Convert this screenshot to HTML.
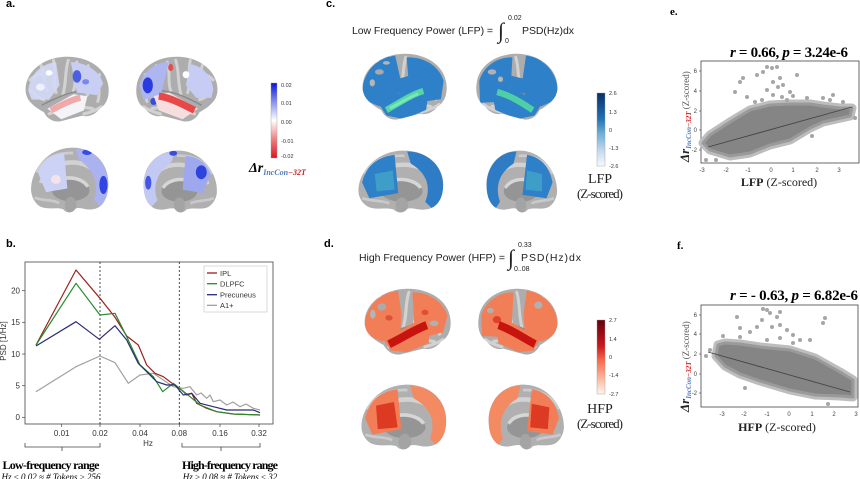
<!DOCTYPE html>
<html><head><meta charset="utf-8"><style>
html,body{margin:0;padding:0;background:#fff;}
svg{display:block;}
.sans{font-family:"Liberation Sans",sans-serif;}
.serif{font-family:"Liberation Serif",serif;}
</style></head><body>
<svg width="860" height="479" viewBox="0 0 860 479" xmlns="http://www.w3.org/2000/svg">
<defs>
<clipPath id="cl"><path d="M3,40 C2,20 22,3 48,2 C74,1 95,14 98,34 C100,46 96,56 88,60 C84,66 76,70 68,68 C60,70 52,72 44,74 C36,76 28,72 24,64 C16,60 8,54 5,48 C4,45 3,43 3,40 Z"/></clipPath>
<clipPath id="cm"><path d="M4,52 C2,30 22,4 52,3 C80,2 98,20 98,42 C98,60 90,70 78,71 C70,72 64,68 58,70 C55,75 47,76 43,71 C35,68 25,72 15,68 C8,64 5,58 4,52 Z"/></clipPath>
<g id="latbase">
<path d="M3,40 C2,20 22,3 48,2 C74,1 95,14 98,34 C100,46 96,56 88,60 C84,66 76,70 68,68 C60,70 52,72 44,74 C36,76 28,72 24,64 C16,60 8,54 5,48 C4,45 3,43 3,40 Z" fill="#adadad"/>
<g clip-path="url(#cl)" fill="none" stroke="#d2d2d2" stroke-width="3.5" stroke-linecap="round">
<path d="M20,10 C25,20 22,30 28,40"/><path d="M35,6 C38,18 34,30 38,42"/><path d="M52,6 C48,18 50,30 46,44"/><path d="M62,8 C58,20 62,30 58,40"/><path d="M75,12 C72,22 78,32 74,45"/><path d="M88,22 C84,30 90,40 86,52"/><path d="M30,66 C45,60 60,56 80,60"/><path d="M10,40 C14,46 18,48 24,50"/><path d="M8,28 C14,22 20,20 26,24"/><path d="M70,66 C78,64 84,62 90,58"/>
<path d="M22,56 C38,48 55,40 72,40" stroke="#8a8a8a" stroke-width="1.5"/>
</g></g>
<g id="medbase">
<path d="M4,52 C2,30 22,4 52,3 C80,2 98,20 98,42 C98,60 90,70 78,71 C70,72 64,68 58,70 C55,75 47,76 43,71 C35,68 25,72 15,68 C8,64 5,58 4,52 Z" fill="#b0b0b0"/>
<g clip-path="url(#cm)">
<path d="M16,42 C22,16 72,10 88,36" fill="none" stroke="#d2d2d2" stroke-width="5"/>
<path d="M10,30 C20,12 40,8 55,9" fill="none" stroke="#cccccc" stroke-width="3"/>
<ellipse cx="52" cy="50" rx="23" ry="12" fill="#959595"/>
<path d="M30,46 C36,33 64,33 73,46" fill="none" stroke="#d6d6d6" stroke-width="4"/>
<path d="M8,58 C20,62 30,60 38,64" fill="none" stroke="#cacaca" stroke-width="3"/>
<ellipse cx="52" cy="66" rx="7" ry="9" fill="#a4a4a4"/>
</g></g>
<linearGradient id="ga" x1="0" y1="0" x2="0" y2="1"><stop offset="0" stop-color="#0a14d8"/><stop offset="0.25" stop-color="#8890f0"/><stop offset="0.5" stop-color="#ffffff"/><stop offset="0.75" stop-color="#f08080"/><stop offset="1" stop-color="#e0141e"/></linearGradient>
<linearGradient id="gc" x1="0" y1="0" x2="0" y2="1"><stop offset="0" stop-color="#08306b"/><stop offset="0.35" stop-color="#2171b5"/><stop offset="0.55" stop-color="#6baed6"/><stop offset="0.8" stop-color="#c6dbef"/><stop offset="1" stop-color="#f7fbff"/></linearGradient>
<linearGradient id="gd" x1="0" y1="0" x2="0" y2="1"><stop offset="0" stop-color="#67000d"/><stop offset="0.35" stop-color="#cb181d"/><stop offset="0.55" stop-color="#fb6a4a"/><stop offset="0.8" stop-color="#fcbba1"/><stop offset="1" stop-color="#fff5f0"/></linearGradient>
</defs>
<rect width="860" height="479" fill="#fff"/>

<!-- ===== Panel a ===== -->
<text x="6" y="7" class="sans" font-size="11" font-weight="bold">a.</text>
<g transform="translate(23,55) scale(0.87,0.893)">
<use href="#latbase"/>
<g clip-path="url(#cl)">
<path d="M6,40 C8,22 20,10 38,8 L42,34 L30,50 L10,50 Z" fill="#d4d9f6" opacity="0.9"/>
<path d="M55,8 C72,8 88,18 92,32 L85,45 L62,42 Z" fill="#c9cff4"/>
<path d="M28,60 L58,44 L74,46 L70,62 L44,72 Z" fill="#f4f4f8"/>
<path d="M32,62 C44,56 56,50 66,48" stroke="#f0a8a8" stroke-width="7" fill="none"/>
<ellipse cx="62" cy="24" rx="5" ry="7" fill="#4b5ee4"/>
<ellipse cx="72" cy="30" rx="4" ry="3" fill="#7a88ec"/>
<ellipse cx="30" cy="20" rx="4" ry="3" fill="#ffffff"/>
<ellipse cx="20" cy="36" rx="5" ry="4" fill="#eef0fb"/>
</g></g>
<g transform="translate(220,55) scale(-0.85,0.893)">
<use href="#latbase"/>
<g clip-path="url(#cl)">
<path d="M8,38 C10,22 22,12 36,10 L40,34 L28,48 L10,48 Z" fill="#c6ccf3"/>
<path d="M60,8 C76,8 90,18 95,34 L90,50 L70,46 Z" fill="#aeb6f0"/>
<ellipse cx="85" cy="34" rx="6" ry="9" fill="#2a3ce0"/>
<ellipse cx="78" cy="52" rx="4" ry="4" fill="#3a4ce0"/>
<path d="M26,60 L60,42 L78,46 L72,62 L44,72 Z" fill="#f6dede"/>
<path d="M30,62 C44,55 58,48 72,46" stroke="#e84848" stroke-width="8" fill="none"/>
<ellipse cx="58" cy="14" rx="3" ry="4" fill="#e05050"/>
<ellipse cx="40" cy="22" rx="4" ry="4" fill="#ffffff"/>
</g></g>
<g transform="translate(28,145) scale(0.82,0.907)">
<use href="#medbase"/>
<g clip-path="url(#cm)">
<path d="M12,30 C18,16 30,10 44,9 L48,48 L22,52 Z" fill="#ccd2f5"/>
<path d="M58,4 C80,4 97,20 98,42 C98,56 94,64 88,68 L80,60 C86,48 84,30 62,16 Z" fill="#aab2ef"/>
<ellipse cx="92" cy="44" rx="5" ry="10" fill="#3245e0"/>
<ellipse cx="72" cy="8" rx="6" ry="3" fill="#3a4ce0"/>
<ellipse cx="34" cy="38" rx="6" ry="5" fill="#f2e4ea"/>
</g></g>
<g transform="translate(220,148) scale(-0.78,0.867)">
<use href="#medbase"/>
<g clip-path="url(#cm)">
<path d="M12,30 C18,16 30,10 44,9 L48,48 L22,52 Z" fill="#9ea8ee"/>
<ellipse cx="24" cy="28" rx="7" ry="8" fill="#2e42dc"/>
<path d="M58,4 C80,4 97,20 98,42 C98,56 94,64 88,68 L80,60 C86,48 84,30 62,16 Z" fill="#c2c9f3"/>
<ellipse cx="92" cy="40" rx="4" ry="8" fill="#4456e2"/>
<ellipse cx="60" cy="6" rx="5" ry="3" fill="#3a4ce0"/>
</g></g>
<rect x="271" y="83" width="6" height="75" fill="url(#ga)" stroke="#999" stroke-width="0.4"/>
<g class="sans" font-size="5.5" fill="#333">
<text x="281" y="87">0.02</text><text x="281" y="105">0.01</text><text x="281" y="124">0.00</text><text x="281" y="143">-0.01</text><text x="281" y="158">-0.02</text>
</g>
<text x="249" y="172" class="serif" font-size="14" font-weight="bold" font-style="italic">Δr<tspan dy="3" font-size="8" fill="#5078c0">IncCon</tspan><tspan font-size="8" fill="#d02020">−32T</tspan></text>

<!-- ===== Panel b ===== -->
<text x="6" y="247" class="sans" font-size="11" font-weight="bold">b.</text>
<rect x="25" y="262" width="248" height="162" fill="none" stroke="#444" stroke-width="0.8"/>
<line x1="100" y1="262" x2="100" y2="424" stroke="#222" stroke-width="0.8" stroke-dasharray="2,2"/>
<line x1="179.3" y1="262" x2="179.3" y2="424" stroke="#222" stroke-width="0.8" stroke-dasharray="2,2"/>
<g stroke="#444" stroke-width="0.7">
<line x1="22" y1="417.3" x2="25" y2="417.3"/><line x1="22" y1="385.7" x2="25" y2="385.7"/><line x1="22" y1="354" x2="25" y2="354"/><line x1="22" y1="322.3" x2="25" y2="322.3"/><line x1="22" y1="290.7" x2="25" y2="290.7"/>
<line x1="61.7" y1="424" x2="61.7" y2="427"/><line x1="100" y1="424" x2="100" y2="427"/><line x1="140" y1="424" x2="140" y2="427"/><line x1="179.3" y1="424" x2="179.3" y2="427"/><line x1="220" y1="424" x2="220" y2="427"/><line x1="259" y1="424" x2="259" y2="427"/>
</g>
<g class="sans" font-size="8" fill="#333" text-anchor="end">
<text x="20" y="420">0</text><text x="20" y="388.5">5</text><text x="20" y="357">10</text><text x="20" y="325">15</text><text x="20" y="293.5">20</text>
</g>
<g class="sans" font-size="8" fill="#333" text-anchor="middle">
<text x="61.7" y="436">0.01</text><text x="100" y="436">0.02</text><text x="140" y="436">0.04</text><text x="179.3" y="436">0.08</text><text x="220" y="436">0.16</text><text x="259" y="436">0.32</text>
<text x="148" y="446">Hz</text>
</g>
<text transform="translate(6,341) rotate(-90)" class="sans" font-size="8" fill="#333" text-anchor="middle">PSD [1/Hz]</text>
<g fill="none" stroke-width="1.2" stroke-linejoin="round">
<polyline stroke="#a0a0a0" points="36,391.7 76,366.7 100,356 115,362.7 128.3,383.3 140,375 153.3,373.3 163.3,380 173.3,386.7 183.3,388.3 190,386.7 196.7,395 201,393 206.7,398.3 210,395 213.3,401.7 220,400 226.7,405 233,402 240,406.7 246,404 253.3,408.3 260,410"/>
<polyline stroke="#9b2020" points="36,345 76,270 100,298.3 115,317.3 126.7,336 138.3,345 146.7,365 155,373.3 163.3,376.7 170,381.7 176.7,386.7 181.7,390 186.7,395 191.7,393.3 196.7,403.3 206.7,408.3 216.7,411.7 233.3,414 260,415"/>
<polyline stroke="#2a8a2a" points="36,345 76,283.3 100,315 115,313.3 126.7,336.7 140,365 153.3,376.7 162.7,391.7 173.3,383.3 181.7,390 190,396.7 200,405 216.7,411.7 233.3,414 260,415"/>
<polyline stroke="#2a2a7a" points="36,346 76,321.7 99.3,339.3 115,325.7 126.7,340 138.3,363.3 148.3,373.3 156.7,381.7 166.7,385 175,385 183.3,395 191.7,393.3 200,403.3 213.3,406.7 226.7,410 240,410 253.3,410 260,412.7"/>
</g>
<rect x="204" y="266" width="63" height="46" fill="#fff" stroke="#ccc" stroke-width="0.7"/>
<g stroke-width="1.3">
<line x1="207" y1="273" x2="217" y2="273" stroke="#9b2020"/>
<line x1="207" y1="283.7" x2="217" y2="283.7" stroke="#2a8a2a"/>
<line x1="207" y1="294.7" x2="217" y2="294.7" stroke="#2a2a7a"/>
<line x1="207" y1="305.3" x2="217" y2="305.3" stroke="#a0a0a0"/>
</g>
<g class="sans" font-size="7.5" fill="#333">
<text x="220" y="276">IPL</text><text x="220" y="286.5">DLPFC</text><text x="220" y="297.5">Precuneus</text><text x="220" y="308">A1+</text>
</g>
<g fill="none" stroke="#444" stroke-width="0.8">
<path d="M25,443 L25,447 L100,447 L100,443 M62,447 L62,451"/>
<path d="M182,443 L182,447 L260,447 L260,443 M221,447 L221,451"/>
</g>
<text x="51" y="469" class="serif" font-size="12" font-weight="bold" text-anchor="middle" textLength="97">Low-frequency range</text>
<text x="230" y="469" class="serif" font-size="12" font-weight="bold" text-anchor="middle" textLength="96">High-frequency range</text>
<text x="51" y="480" class="serif" font-size="9" font-style="italic" text-anchor="middle">Hz ≤ 0.02 ≈ # Tokens ≥ 256</text>
<text x="230" y="480" class="serif" font-size="9" font-style="italic" text-anchor="middle">Hz ≥ 0.08 ≈ # Tokens ≤ 32</text>

<!-- ===== Panel c ===== -->
<text x="326" y="7" class="sans" font-size="11" font-weight="bold">c.</text>
<text x="352" y="34" class="sans" font-size="10.5" textLength="141" fill="#222">Low Frequency Power (LFP) =</text>
<text x="498" y="38" class="serif" font-size="22" fill="#222">∫</text>
<text x="508" y="20" class="sans" font-size="7" fill="#222">0.02</text>
<text x="505" y="43" class="sans" font-size="7" fill="#222">0</text>
<text x="522" y="34" class="sans" font-size="10.5" textLength="52" fill="#222">PSD(Hz)dx</text>
<g transform="translate(360,52) scale(0.88,0.907)">
<use href="#latbase"/>
<g clip-path="url(#cl)" fill="#2e80c8">
<path d="M3,44 C2,25 18,6 40,4 L46,30 L42,55 L22,60 L8,54 Z"/>
<path d="M53,6 C72,5 90,15 95,32 L92,52 L70,55 L56,40 Z"/>
<path d="M22,58 L60,38 L78,45 L75,64 L50,74 L30,70 Z"/>
<path d="M42,30 L56,26 L56,42 L44,46 Z"/>
<ellipse cx="22" cy="22" rx="5" ry="3" fill="#a9a9a9"/><ellipse cx="14" cy="34" rx="3" ry="4" fill="#b5b5b5"/><ellipse cx="30" cy="12" rx="4" ry="2" fill="#b5b5b5"/>
<path d="M30,64 C45,56 58,47 72,43" stroke="#55d6a8" stroke-width="7" fill="none"/>
<path d="M34,62 C46,56 56,50 66,46" stroke="#7ae8b8" stroke-width="3" fill="none"/>
</g></g>
<g transform="translate(560,52) scale(-0.85,0.907)">
<use href="#latbase"/>
<g clip-path="url(#cl)" fill="#2e80c8">
<path d="M3,44 C2,25 18,6 40,4 L44,30 L40,55 L22,60 L8,54 Z"/>
<path d="M56,6 C72,5 90,15 95,32 L94,56 L72,55 L58,40 Z"/>
<path d="M22,58 L60,38 L80,45 L76,64 L50,74 L30,70 Z"/>
<path d="M40,30 L58,26 L58,42 L42,46 Z"/>
<ellipse cx="80" cy="22" rx="5" ry="3" fill="#b0b0b0"/><ellipse cx="70" cy="30" rx="3" ry="3" fill="#b5b5b5"/>
<path d="M32,64 C45,56 58,48 74,44" stroke="#4fcfa6" stroke-width="7" fill="none"/>
</g></g>
<g transform="translate(355,148) scale(0.9,0.867)">
<use href="#medbase"/>
<g clip-path="url(#cm)">
<path d="M8,40 C12,20 26,10 44,8 L48,52 L16,58 Z" fill="#2e80c8"/>
<path d="M22,30 L42,26 L44,48 L24,50 Z" fill="#3f9ec8"/>
<path d="M58,4 C80,4 97,20 98,42 C98,58 94,66 86,70 L78,62 C84,48 82,30 62,18 Z" fill="#2e7cc6"/>
</g></g>
<g transform="translate(560,148) scale(-0.75,0.867)">
<use href="#medbase"/>
<g clip-path="url(#cm)">
<path d="M10,40 C14,20 28,10 44,8 L50,54 L18,58 Z" fill="#2e80c8"/>
<path d="M24,30 L44,26 L46,48 L24,50 Z" fill="#3f9ec8"/>
<path d="M58,4 C80,4 97,20 98,42 C98,58 94,66 86,70 L80,62 C86,48 84,30 62,18 Z" fill="#2e7cc6"/>
<ellipse cx="90" cy="72" rx="5" ry="4" fill="#2e7cc6"/>
</g></g>
<rect x="597" y="93" width="8" height="73" fill="url(#gc)" stroke="#999" stroke-width="0.4"/>
<g class="sans" font-size="5.5" fill="#333">
<text x="609" y="95">2.6</text><text x="609" y="114">1.3</text><text x="609" y="132">0</text><text x="609" y="150">-1.3</text><text x="609" y="168">-2.6</text>
</g>
<text x="600" y="183" class="serif" font-size="14" text-anchor="middle" fill="#222">LFP</text>
<text x="600" y="198" class="serif" font-size="13" text-anchor="middle" textLength="46" fill="#222">(Z-scored)</text>

<!-- ===== Panel d ===== -->
<text x="324" y="247" class="sans" font-size="11" font-weight="bold">d.</text>
<text x="359" y="261" class="sans" font-size="10.5" textLength="146" fill="#222">High Frequency Power (HFP) =</text>
<text x="508" y="265" class="serif" font-size="22" fill="#222">∫</text>
<text x="518" y="247" class="sans" font-size="7" fill="#222">0.33</text>
<text x="514" y="271" class="sans" font-size="7" fill="#222">0..08</text>
<text x="521" y="261" class="sans" font-size="10.5" textLength="60" fill="#222">PSD(Hz)dx</text>
<g transform="translate(362,287) scale(0.9,0.907)">
<use href="#latbase"/>
<g clip-path="url(#cl)" fill="#f27e58">
<path d="M3,44 C2,25 18,6 40,4 L44,30 L42,55 L22,60 L8,54 Z"/>
<path d="M56,6 C72,5 90,15 95,32 L90,50 L70,55 L58,40 Z"/>
<path d="M24,58 L60,38 L76,45 L74,62 L50,72 L32,70 Z"/>
<ellipse cx="22" cy="22" rx="5" ry="4" fill="#ababab"/><ellipse cx="12" cy="30" rx="3" ry="5" fill="#b5b5b5"/><ellipse cx="80" cy="40" rx="5" ry="3" fill="#b0b0b0"/>
<ellipse cx="30" cy="34" rx="4" ry="3" fill="#e05038"/><ellipse cx="70" cy="28" rx="4" ry="3" fill="#e05038"/>
<path d="M30,63 C45,56 58,47 72,42" stroke="#c8140f" stroke-width="9" fill="none"/>
</g></g>
<g transform="translate(560,287) scale(-0.83,0.907)">
<use href="#latbase"/>
<g clip-path="url(#cl)" fill="#f27e58">
<path d="M3,44 C2,25 18,6 40,4 L44,30 L42,55 L22,60 L8,54 Z"/>
<path d="M56,6 C72,5 90,15 95,32 L94,54 L70,55 L58,40 Z"/>
<path d="M24,58 L60,38 L78,45 L74,62 L50,72 L32,70 Z"/>
<ellipse cx="26" cy="20" rx="5" ry="4" fill="#b0b0b0"/><ellipse cx="84" cy="26" rx="4" ry="3" fill="#b0b0b0"/>
<ellipse cx="76" cy="36" rx="5" ry="4" fill="#e04030"/>
<path d="M30,63 C45,56 58,47 74,42" stroke="#c8140f" stroke-width="9" fill="none"/>
</g></g>
<g transform="translate(358,382) scale(0.9,0.907)">
<use href="#medbase"/>
<g clip-path="url(#cm)">
<path d="M8,40 C12,20 26,10 44,8 L48,52 L16,58 Z" fill="#f27e58"/>
<path d="M20,26 L40,22 L44,50 L22,52 Z" fill="#dc3a22"/>
<path d="M58,4 C80,4 97,20 98,42 C98,58 94,66 86,70 L80,62 C86,48 84,30 62,18 Z" fill="#f38a62"/>
</g></g>
<g transform="translate(567,382) scale(-0.8,0.907)">
<use href="#medbase"/>
<g clip-path="url(#cm)">
<path d="M10,40 C14,20 28,10 44,8 L50,54 L18,58 Z" fill="#f27e58"/>
<path d="M22,28 L44,24 L46,50 L24,52 Z" fill="#dc3a22"/>
<path d="M58,4 C80,4 97,20 98,42 C98,58 94,66 86,70 L80,62 C86,48 84,30 62,18 Z" fill="#f38a62"/>
<ellipse cx="90" cy="72" rx="5" ry="4" fill="#f38a62"/>
</g></g>
<rect x="597" y="320" width="8" height="74" fill="url(#gd)" stroke="#999" stroke-width="0.4"/>
<g class="sans" font-size="5.5" fill="#333">
<text x="609" y="322">2.7</text><text x="609" y="341">1.4</text><text x="609" y="359">0</text><text x="609" y="377">-1.4</text><text x="609" y="396">-2.7</text>
</g>
<text x="600" y="413" class="serif" font-size="14" text-anchor="middle" fill="#222">HFP</text>
<text x="600" y="428" class="serif" font-size="13" text-anchor="middle" textLength="46" fill="#222">(Z-scored)</text>

<!-- ===== Panel e ===== -->
<text x="670" y="15" class="serif" font-size="11" font-weight="bold">e.</text>
<text x="730" y="57" class="serif" font-size="15" font-weight="bold" textLength="118"><tspan font-style="italic">r</tspan> = 0.66, <tspan font-style="italic">p</tspan> = 3.24e-6</text>
<rect x="701" y="61" width="158" height="102" fill="none" stroke="#444" stroke-width="0.8"/>
<path d="M703,143 L710,135 L730,122 L750,110 L770,105 L790,104 L810,104 L823,106 L840,108 L852,108 L850,116 L823,122 L810,128 L790,140 L770,145 L750,153 L730,156 L710,150 Z" fill="#bdbdbd" stroke="#bdbdbd" stroke-width="9" stroke-linejoin="round"/>
<path d="M703,143 L710,135 L730,122 L750,110 L770,105 L790,104 L810,104 L823,106 L840,108 L852,108 L850,116 L823,122 L810,128 L790,140 L770,145 L750,153 L730,156 L710,150 Z" fill="#858585" stroke="#9a9a9a" stroke-width="3" stroke-linejoin="round"/>
<g fill="#a6a6a6">
<circle cx="767" cy="67" r="2"/><circle cx="772" cy="68" r="2"/><circle cx="777" cy="67" r="2"/><circle cx="757" cy="75" r="2"/><circle cx="763" cy="72" r="2"/><circle cx="743" cy="78" r="2"/><circle cx="740" cy="82" r="2"/><circle cx="735" cy="92" r="2"/><circle cx="747" cy="97" r="2"/><circle cx="773" cy="82" r="2"/><circle cx="778" cy="87" r="2"/><circle cx="783" cy="85" r="2"/><circle cx="790" cy="92" r="2"/><circle cx="797" cy="75" r="2"/><circle cx="767" cy="90" r="2"/><circle cx="773" cy="95" r="2"/><circle cx="782" cy="97" r="2"/><circle cx="755" cy="102" r="2"/><circle cx="762" cy="100" r="2"/><circle cx="807" cy="98" r="2"/><circle cx="823" cy="98" r="2"/><circle cx="833" cy="95" r="2"/><circle cx="843" cy="102" r="2"/><circle cx="830" cy="100" r="2"/><circle cx="780" cy="78" r="2"/><circle cx="787" cy="100" r="2"/><circle cx="793" cy="96" r="2"/><circle cx="706" cy="160" r="2"/><circle cx="716" cy="160" r="2"/><circle cx="855" cy="118" r="2"/><circle cx="812" cy="136" r="2"/>
</g>
<line x1="708" y1="147" x2="852" y2="107" stroke="#444" stroke-width="0.9"/>
<g stroke="#444" stroke-width="0.6">
<line x1="699" y1="71" x2="701" y2="71"/><line x1="699" y1="91" x2="701" y2="91"/><line x1="699" y1="111" x2="701" y2="111"/><line x1="699" y1="130" x2="701" y2="130"/><line x1="699" y1="150" x2="701" y2="150"/>
</g>
<g class="sans" font-size="6" fill="#444" text-anchor="end">
<text x="697" y="73">6</text><text x="697" y="93">4</text><text x="697" y="113">2</text><text x="697" y="132">0</text><text x="697" y="152">-2</text>
</g>
<g class="sans" font-size="6" fill="#444" text-anchor="middle">
<text x="702" y="172">-3</text><text x="726" y="172">-2</text><text x="748" y="172">-1</text><text x="771" y="172">0</text><text x="793" y="172">1</text><text x="817" y="172">2</text><text x="839" y="172">3</text>
</g>
<text x="779" y="186" class="serif" font-size="12" text-anchor="middle" fill="#222"><tspan font-weight="bold">LFP</tspan> (Z-scored)</text>
<text transform="translate(689,162) rotate(-90)" class="serif" fill="#222"><tspan font-size="13" font-weight="bold" font-style="italic">Δr</tspan><tspan font-size="7" font-weight="bold" font-style="italic" fill="#5078c0" dy="2">IncCon</tspan><tspan font-size="7" font-weight="bold" font-style="italic" fill="#d02020">−32T</tspan><tspan font-size="9" fill="#555" dy="-2"> (Z-scored)</tspan></text>

<!-- ===== Panel f ===== -->
<text x="677" y="249" class="serif" font-size="11" font-weight="bold">f.</text>
<text x="730" y="300" class="serif" font-size="15" font-weight="bold" textLength="128"><tspan font-style="italic">r</tspan> = - 0.63, <tspan font-style="italic">p</tspan> = 6.82e-6</text>
<rect x="701" y="305" width="157" height="102" fill="none" stroke="#444" stroke-width="0.8"/>
<path d="M718,345 L725,343 L740,344 L760,347 L790,350 L815,358 L840,372 L853,380 L853,397 L840,396 L815,395 L790,390 L760,381 L740,374 L725,366 L716,356 Z" fill="#bdbdbd" stroke="#bdbdbd" stroke-width="9" stroke-linejoin="round"/>
<path d="M718,345 L725,343 L740,344 L760,347 L790,350 L815,358 L840,372 L853,380 L853,397 L840,396 L815,395 L790,390 L760,381 L740,374 L725,366 L716,356 Z" fill="#858585" stroke="#9a9a9a" stroke-width="3" stroke-linejoin="round"/>
<g fill="#a6a6a6">
<circle cx="737" cy="317" r="2"/><circle cx="763" cy="309" r="2"/><circle cx="767" cy="310" r="2"/><circle cx="770" cy="313" r="2"/><circle cx="780" cy="312" r="2"/><circle cx="777" cy="317" r="2"/><circle cx="757" cy="327" r="2"/><circle cx="750" cy="332" r="2"/><circle cx="740" cy="328" r="2"/><circle cx="772" cy="327" r="2"/><circle cx="780" cy="325" r="2"/><circle cx="787" cy="330" r="2"/><circle cx="793" cy="335" r="2"/><circle cx="800" cy="340" r="2"/><circle cx="825" cy="318" r="2"/><circle cx="823" cy="323" r="2"/><circle cx="810" cy="340" r="2"/><circle cx="762" cy="320" r="2"/><circle cx="740" cy="337" r="2"/><circle cx="723" cy="336" r="2"/><circle cx="780" cy="338" r="2"/><circle cx="767" cy="340" r="2"/><circle cx="793" cy="343" r="2"/><circle cx="706" cy="356" r="2"/><circle cx="710" cy="350" r="2"/><circle cx="745" cy="388" r="2"/><circle cx="828" cy="404" r="2"/>
</g>
<line x1="708" y1="352" x2="850" y2="392" stroke="#444" stroke-width="0.9"/>
<g stroke="#444" stroke-width="0.6">
<line x1="699" y1="315" x2="701" y2="315"/><line x1="699" y1="334" x2="701" y2="334"/><line x1="699" y1="354" x2="701" y2="354"/><line x1="699" y1="374" x2="701" y2="374"/><line x1="699" y1="393" x2="701" y2="393"/>
</g>
<g class="sans" font-size="6" fill="#444" text-anchor="end">
<text x="697" y="317">6</text><text x="697" y="336">4</text><text x="697" y="356">2</text><text x="697" y="376">0</text><text x="697" y="395">-2</text>
</g>
<g class="sans" font-size="6" fill="#444" text-anchor="middle">
<text x="722" y="416">-3</text><text x="744" y="416">-2</text><text x="767" y="416">-1</text><text x="789" y="416">0</text><text x="812" y="416">1</text><text x="834" y="416">2</text><text x="856" y="416">3</text>
</g>
<text x="777" y="431" class="serif" font-size="12" text-anchor="middle" fill="#222"><tspan font-weight="bold">HFP</tspan> (Z-scored)</text>
<text transform="translate(689,412) rotate(-90)" class="serif" fill="#222"><tspan font-size="13" font-weight="bold" font-style="italic">Δr</tspan><tspan font-size="7" font-weight="bold" font-style="italic" fill="#5078c0" dy="2">IncCon</tspan><tspan font-size="7" font-weight="bold" font-style="italic" fill="#d02020">−32T</tspan><tspan font-size="9" fill="#555" dy="-2"> (Z-scored)</tspan></text>
</svg>
</body></html>
